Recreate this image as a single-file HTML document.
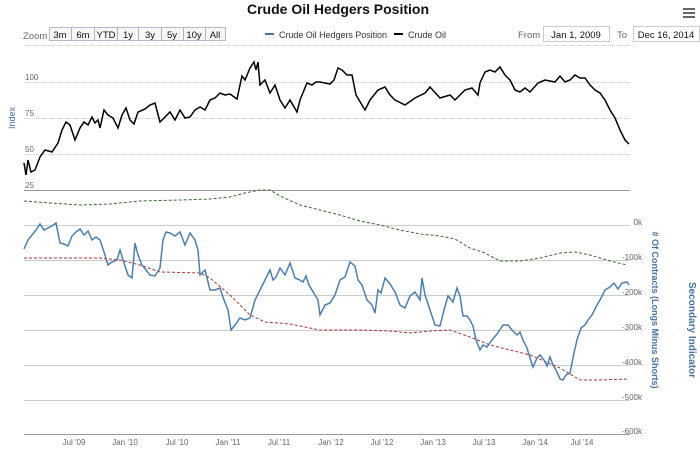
<!DOCTYPE html>
<html><head><meta charset="utf-8"><style>
body{margin:0;background:#fff;width:700px;height:449px;overflow:hidden;font-family:"Liberation Sans",sans-serif}
</style></head><body>
<svg width="700" height="449" viewBox="0 0 700 449" xmlns="http://www.w3.org/2000/svg" font-family="Liberation Sans, sans-serif">
<text x="338" y="14" text-anchor="middle" font-size="14" font-weight="bold" fill="#111">Crude Oil Hedgers Position</text>
<g fill="#666"><rect x="683" y="8" width="12" height="2"/><rect x="683" y="12" width="12" height="2"/><rect x="683" y="16" width="12" height="2"/></g>
<text x="23" y="39" font-size="9.5" fill="#666">Zoom</text>
<g fill="#f7f7f7" stroke="#aab" stroke-width="0.8">
<rect x="49.5" y="27.5" width="22" height="13"/><rect x="71.5" y="27.5" width="23" height="13"/><rect x="94.5" y="27.5" width="23" height="13"/><rect x="117.5" y="27.5" width="21" height="13"/><rect x="138.5" y="27.5" width="23" height="13"/><rect x="161.5" y="27.5" width="22" height="13"/><rect x="183.5" y="27.5" width="22" height="13"/><rect x="205.5" y="27.5" width="20" height="13"/></g>
<g font-size="9.5" fill="#111" text-anchor="middle"><text x="60" y="38">3m</text><text x="83" y="38">6m</text><text x="106" y="38">YTD</text><text x="128" y="38">1y</text><text x="150" y="38">3y</text><text x="172" y="38">5y</text><text x="194" y="38">10y</text><text x="215" y="38">All</text></g>
<line x1="265" y1="34" x2="274" y2="34" stroke="#4572a7" stroke-width="2"/>
<text x="279" y="38" font-size="9" fill="#333" textLength="108">Crude Oil Hedgers Position</text>
<line x1="394" y1="34" x2="403" y2="34" stroke="#000" stroke-width="2"/>
<text x="408" y="38" font-size="9" fill="#333">Crude Oil</text>
<text x="518" y="38" font-size="9.5" fill="#666">From</text>
<rect x="543.5" y="26.5" width="66" height="15" fill="#fff" stroke="#ccc"/>
<text x="576" y="38" font-size="9.5" text-anchor="middle" fill="#111">Jan 1, 2009</text>
<text x="617" y="38" font-size="9.5" fill="#666">To</text>
<rect x="633.5" y="26.5" width="66" height="15" fill="#fff" stroke="#ccc"/>
<text x="666" y="38" font-size="9.5" text-anchor="middle" fill="#111">Dec 16, 2014</text>
<g stroke="#ccc" stroke-dasharray="1,1" stroke-width="1">
<line x1="24" y1="45.5" x2="630" y2="45.5"/><line x1="24" y1="82.5" x2="630" y2="82.5"/><line x1="24" y1="118.5" x2="630" y2="118.5"/><line x1="24" y1="154.5" x2="630" y2="154.5"/></g>
<line x1="24" y1="190.5" x2="630" y2="190.5" stroke="#999"/>
<g font-size="8" fill="#666"><text x="25" y="80">100</text><text x="25" y="116">75</text><text x="25" y="152">50</text><text x="25" y="188">25</text></g>
<text transform="translate(15,118) rotate(-90)" font-size="9" fill="#4572a7" text-anchor="middle">Index</text>
<g stroke="#ccc" stroke-width="1">
<line x1="24" y1="225.5" x2="630" y2="225.5"/><line x1="24" y1="260.5" x2="630" y2="260.5"/><line x1="24" y1="295.5" x2="630" y2="295.5"/><line x1="24" y1="330.5" x2="630" y2="330.5"/><line x1="24" y1="365.5" x2="630" y2="365.5"/><line x1="24" y1="400.5" x2="630" y2="400.5"/></g>
<line x1="24" y1="434.5" x2="630" y2="434.5" stroke="#999"/>
<g font-size="8" fill="#666" text-anchor="end"><text x="642" y="225">0k</text><text x="642" y="260">-100k</text><text x="642" y="295">-200k</text><text x="642" y="330">-300k</text><text x="642" y="365">-400k</text><text x="642" y="400">-500k</text><text x="642" y="434">-600k</text></g>
<g font-size="8" fill="#666" text-anchor="middle"><text x="74" y="445">Jul '09</text><text x="125" y="445">Jan '10</text><text x="177" y="445">Jul '10</text><text x="228" y="445">Jan '11</text><text x="279" y="445">Jul '11</text><text x="331" y="445">Jan '12</text><text x="382" y="445">Jul '12</text><text x="433" y="445">Jan '13</text><text x="484" y="445">Jul '13</text><text x="535" y="445">Jan '14</text><text x="582" y="445">Jul '14</text></g>
<text transform="translate(652,310) rotate(90)" font-size="9" font-weight="bold" fill="#4572a7" text-anchor="middle"># Of Contracts (Longs Minus Shorts)</text>
<text transform="translate(689,330) rotate(90)" font-size="10" font-weight="bold" fill="#4572a7" text-anchor="middle">Secondary Indicator</text>
<polyline fill="none" stroke="#000" stroke-width="1.5" points="24,163 26,175 28,160 31,172 35,170 40,157 45,150 52,152 58,143 62,130 66,122 70,125 75,140 80,128 84,122 88,125 92,117 95,123 98,120 100,128 104,110 108,115 113,118 118,128 122,115 126,108 130,120 134,124 138,112 145,109 150,105 155,103 160,122 165,117 170,112 175,120 180,110 185,118 190,117 195,110 200,107 205,110 210,100 215,98 220,93 225,95 230,94 237,99 240,85 242,76 245,80 250,68 254,62 256,70 258,62 260,85 265,80 270,93 275,85 280,100 285,108 290,100 297,112 300,100 307,83 312,85 316,82 320,82 325,83 330,84 334,80 338,68 342,70 347,75 352,75 356,95 365,110 370,100 378,90 385,87 390,95 395,100 405,105 415,98 425,93 430,87 440,98 450,95 455,100 465,90 472,88 478,95 480,83 485,72 490,70 495,72 500,67 505,75 510,80 515,90 520,92 525,88 530,92 538,83 545,80 555,82 560,76 565,82 570,80 575,75 580,78 585,78 590,85 595,90 600,93 605,100 610,110 615,118 620,130 625,140 629,144"/>
<polyline fill="none" stroke="#3a6b30" stroke-width="1" stroke-dasharray="3,2" points="24,201 50,203 80,205 110,204 140,201 180,200 210,199 230,197 245,193 260,190 270,190 280,196 300,205 320,210 340,215 360,221 380,225 400,230 420,234 440,236 455,239 470,248 485,253 500,261 520,261 540,258 560,253 575,252 590,255 610,261 627,265"/>
<polyline fill="none" stroke="#a33" stroke-width="1" stroke-dasharray="3,2" points="24,258 100,258 120,260 140,265 160,272 200,273 210,278 230,295 250,315 265,322 290,324 320,330 345,330 360,330 390,331 410,333 430,331 450,330 470,337 490,345 510,350 530,355 560,368 580,380 600,380 627,379"/>
<polyline fill="none" stroke="#4a7fb0" stroke-width="1.5" points="24,249 28,240 32,235 36,230 40,224 44,230 48,228 52,226 56,223 60,243 64,244 68,246 72,236 76,232 80,229 84,235 88,231 92,240 96,237 100,240 104,252 108,265 112,262 117,260 120,250 124,263 128,275 132,278 135,243 138,255 142,265 146,270 150,275 155,276 160,268 163,240 166,232 170,233 175,236 180,232 185,245 190,233 195,240 198,250 200,275 205,270 210,290 215,290 220,288 224,300 228,310 231,330 235,325 240,318 245,320 250,318 255,300 260,290 265,280 270,270 273,280 276,277 280,268 285,275 290,263 295,278 300,280 303,282 306,276 309,285 315,295 318,300 320,315 325,305 330,303 335,295 340,280 345,277 350,262 355,266 358,280 362,285 367,300 372,305 375,313 378,290 381,293 385,278 390,284 395,292 400,305 405,308 410,296 415,292 420,300 422,278 425,295 430,310 435,325 440,326 444,310 448,296 453,302 457,288 460,296 463,316 467,316 470,320 473,326 476,340 480,350 483,345 487,347 492,340 497,334 503,325 508,325 512,330 517,335 520,332 523,340 527,348 530,358 533,367 537,358 540,355 544,360 547,366 550,357 553,365 556,370 560,379 563,380 566,375 570,373 574,353 577,340 581,328 585,325 588,320 592,315 597,305 600,300 605,290 610,287 614,283 618,289 622,283 627,282 629,285"/>
</svg>
</body></html>
